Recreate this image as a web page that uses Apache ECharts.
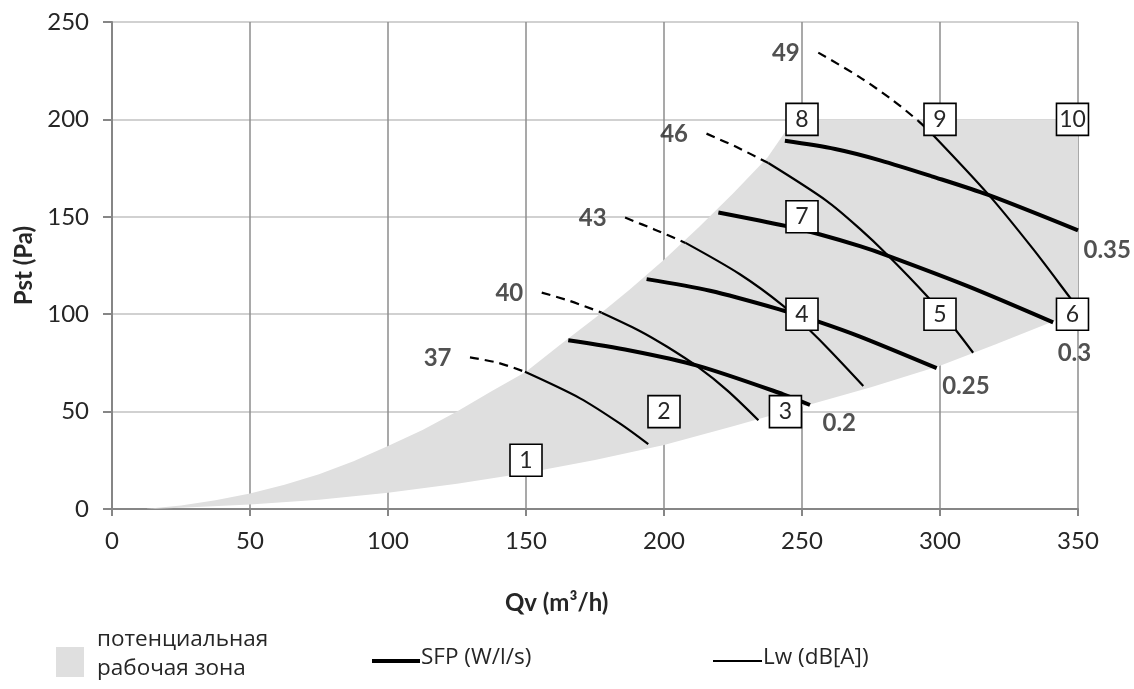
<!DOCTYPE html>
<html><head><meta charset="utf-8">
<script src="https://cdn.jsdelivr.net/npm/echarts@6/dist/echarts.min.js"></script>
<style>html,body{margin:0;padding:0;background:#fff}#c{width:1134px;height:689px}</style>
</head><body><div id="c"></div>
<script>
// ---- data ----
const xTicks = [0, 50, 100, 150, 200, 250, 300, 350];
const yTicks = [0, 50, 100, 150, 200, 250];

// potential working zone: upper boundary then lower boundary (reversed)
const zoneUpper = [[12,0],[25,1.8],[37.5,4.5],[50,7.9],[62.5,12.5],[75,17.8],[87.5,24.5],[100,32.4],[112.5,40.5],[125,50],[137.5,60.5],[150,70.5],[162.5,84.5],[175,98],[187.5,112.5],[200,128],[212.5,144.5],[225,162],[237.5,180.5],[247,200],[350,200]];
const zoneLower = [[350,101.5],[340,95.7],[320,84.5],[300,73.5],[275,62.5],[250,52.5],[225,42.5],[200,32.8],[175,25.2],[150,18.5],[125,12.9],[100,8.4],[75,4.7],[50,2.3],[25,0.6],[12,0]];

// Lw (dB[A]) curves: dashed part outside the zone, solid part inside
const lwNames = ['37', '40', '43', '46', '49'];
const lw37Dashed = [[129.7,77.8],[140,75.0],[149.6,70.4]];
const lw37Solid  = [[149.6,70.4],[169.6,56.8],[184.1,43.8],[194.3,33.3]];
const lw40Dashed = [[155.7,111.1],[165.9,106.8],[177.4,100.8]];
const lw40Solid  = [[177.4,100.8],[190.7,91.8],[201,83.4],[212.4,72.8],[223,60.8],[234.2,45.6]];
const lw43Dashed = [[185.9,149.6],[196.7,143.4],[207.8,136.6]];
const lw43Solid  = [[207.8,136.6],[227.5,120.5],[243.2,104.3],[252.9,91.6],[260.1,81.4],[272.2,63.2]];
const lw46Dashed = [[215.4,192.7],[226.3,185.8],[237.8,177.6]];
const lw46Solid  = [[237.8,177.6],[258.9,158.2],[271,143.8],[280.7,130.8],[295.1,109.6],[305.4,92.4],[312,80.2]];
const lw49Dashed = [[255.9,234.3],[271,221.6],[283.1,209.6],[292,199.4]];
const lw49Solid  = [[292,199.4],[297,192.7],[317.5,161.5],[333.7,133.5],[347.1,108.5],[350,103]];

// SFP (W/l/s) curves
const sfpNames = ['0.2', '0.25', '0.3', '0.35'];
const sfp02  = [[165.3,86.6],[187.7,81.4],[212.4,73.5],[243.2,58.9],[252.9,53.4]];
const sfp025 = [[193.7,118],[216.7,112],[243.2,101.9],[255.9,96.2],[271,88.5],[298.8,72.3]];
const sfp03  = [[219.7,152.2],[244.4,145.2],[255.3,141.4],[271,134.9],[280.7,130.2],[310,114.4],[341,95.8]];
const sfp035 = [[243.8,189],[262,184.8],[278.3,179],[297,170.8],[317.5,161.2],[350,143]];

// numbered operating points
const boxLabels = ['1','2','3','4','5','6','7','8','9','10'];
const boxPoints = [[150,25],[200,50],[244,50],[250,100],[300,100],[348,100],[250,150],[250,200],[300,200],[348,200]];

// ---- styles ----
const TXT = '#262626';
const NUMFONT = 'Lato';
const CYRFONT = 'Open Sans';
const ZONE = '#dfdfdf';
const sfpLabelOffsets = [[12,18],[5,18],[4,31],[5,20]];

const zonePolygon = zoneUpper.concat(zoneLower);
const lwDashed = [lw37Dashed, lw40Dashed, lw43Dashed, lw46Dashed, lw49Dashed];
const lwSolid = [lw37Solid, lw40Solid, lw43Solid, lw46Solid, lw49Solid];
const sfpLines = [sfp02, sfp025, sfp03, sfp035];

const series = [];
series.push({
  type: 'custom', name: 'zone', coordinateSystem: 'cartesian2d', silent: true, z: 1,
  encode: {x: 0, y: 1},
  data: [zonePolygon[0]],
  renderItem: function (params, api) {
    return {type: 'polygon', shape: {points: zonePolygon.map(p => api.coord(p))}, style: {fill: ZONE}};
  }
});
lwDashed.forEach((d, i) => series.push({
  type: 'line', name: 'Lw' + lwNames[i] + 'd', data: d, showSymbol: false, symbol: 'none',
  smooth: 0.3, silent: true, z: 3,
  lineStyle: {color: '#000', width: 2.2, type: [9, 6]}
}));
lwSolid.forEach((d, i) => series.push({
  type: 'line', name: 'Lw' + lwNames[i], data: d, showSymbol: false, symbol: 'none',
  smooth: 0.3, silent: true, z: 3,
  lineStyle: {color: '#000', width: 2.2}
}));
sfpLines.forEach((d, i) => series.push({
  type: 'line', name: 'SFP' + sfpNames[i], data: d, showSymbol: false, symbol: 'none',
  smooth: 0.3, silent: true, z: 4,
  lineStyle: {color: '#000', width: 4}
}));
// Lw labels at start of dashed parts
series.push({
  type: 'scatter', name: 'lwLabels', symbolSize: 1, itemStyle: {color: 'rgba(0,0,0,0)'}, silent: true, z: 6,
  data: lwDashed.map((d, i) => ({name: lwNames[i], value: d[0]})),
  label: {show: true, position: 'left', distance: 18, offset: [0, 1], formatter: '{b}',
    fontFamily: NUMFONT, fontWeight: 'bold', fontSize: 24, color: TXT}
});
// SFP labels at line ends
series.push({
  type: 'scatter', name: 'sfpLabels', symbolSize: 1, itemStyle: {color: 'rgba(0,0,0,0)'}, silent: true, z: 6,
  data: sfpLines.map((d, i) => ({
    name: sfpNames[i], value: d[d.length - 1],
    label: {position: 'right', distance: sfpLabelOffsets[i][0], offset: [0, sfpLabelOffsets[i][1]]}
  })),
  label: {show: true, formatter: '{b}', fontFamily: NUMFONT, fontWeight: 'bold', fontSize: 24, color: TXT}
});
// numbered boxes
series.push({
  type: 'scatter', name: 'boxes', symbol: 'rect', symbolSize: [32, 32], silent: true, z: 8,
  itemStyle: {color: '#fff', borderColor: '#000', borderWidth: 1.6, opacity: 1},
  data: boxPoints.map((p, i) => ({name: boxLabels[i], value: p})),
  label: {show: true, position: 'inside', formatter: '{b}', fontFamily: NUMFONT, fontSize: 23, color: TXT}
});

const chart = echarts.init(document.getElementById('c'), null, {renderer: 'canvas'});
chart.setOption({
  animation: false,
  backgroundColor: '#fff',
  grid: {left: 112, right: 56, top: 22, bottom: 180, containLabel: false, outerBoundsMode: 'none'},
  xAxis: {
    type: 'value', min: xTicks[0], max: xTicks[xTicks.length - 1], interval: xTicks[1] - xTicks[0],
    axisLine: {show: true, onZero: false, lineStyle: {color: '#868686', width: 2}},
    axisTick: {show: true, length: 7, lineStyle: {color: '#868686', width: 2}},
    axisLabel: {margin: 20, fontFamily: NUMFONT, fontSize: 24, color: TXT},
    splitLine: {show: true, lineStyle: {color: '#8c8c8c', width: 1.5}}
  },
  yAxis: {
    type: 'value', min: yTicks[0], max: yTicks[yTicks.length - 1], interval: yTicks[1] - yTicks[0],
    name: 'Pst (Pa)', nameLocation: 'middle', nameGap: 73,
    nameTextStyle: {fontFamily: NUMFONT, fontWeight: 'bold', fontSize: 24, color: TXT},
    axisLine: {show: true, lineStyle: {color: '#868686', width: 2}},
    axisTick: {show: true, length: 9, lineStyle: {color: '#868686', width: 2}},
    axisLabel: {margin: 23, fontFamily: NUMFONT, fontSize: 24, color: TXT},
    splitLine: {show: true, lineStyle: {color: '#c2c2c2', width: 1.5}}
  },
  graphic: [
    {type: 'text', left: 505, top: 591, silent: true,
      style: {text: 'Qv (m³/h)', fontFamily: NUMFONT, fontWeight: 'bold', fontSize: 24, fill: TXT}},
    {type: 'rect', left: 56, top: 647, silent: true, shape: {width: 28, height: 30}, style: {fill: ZONE}},
    {type: 'text', left: 97, top: 625, silent: true,
      style: {text: 'потенциальная\nрабочая зона', fontFamily: CYRFONT, fontSize: 22.5, lineHeight: 29, fill: TXT}},
    {type: 'line', silent: true, shape: {x1: 372, y1: 661, x2: 420, y2: 661}, style: {stroke: '#000', lineWidth: 4}},
    {type: 'text', left: 421, top: 646, silent: true,
      style: {text: 'SFP (W/l/s)', fontFamily: CYRFONT, fontSize: 22.5, fill: TXT}},
    {type: 'line', silent: true, shape: {x1: 713, y1: 661, x2: 762, y2: 661}, style: {stroke: '#000', lineWidth: 2}},
    {type: 'text', left: 763, top: 646, silent: true,
      style: {text: 'Lw (dB[A])', fontFamily: CYRFONT, fontSize: 22.5, fill: TXT}}
  ],
  series: series
});
</script></body></html>
